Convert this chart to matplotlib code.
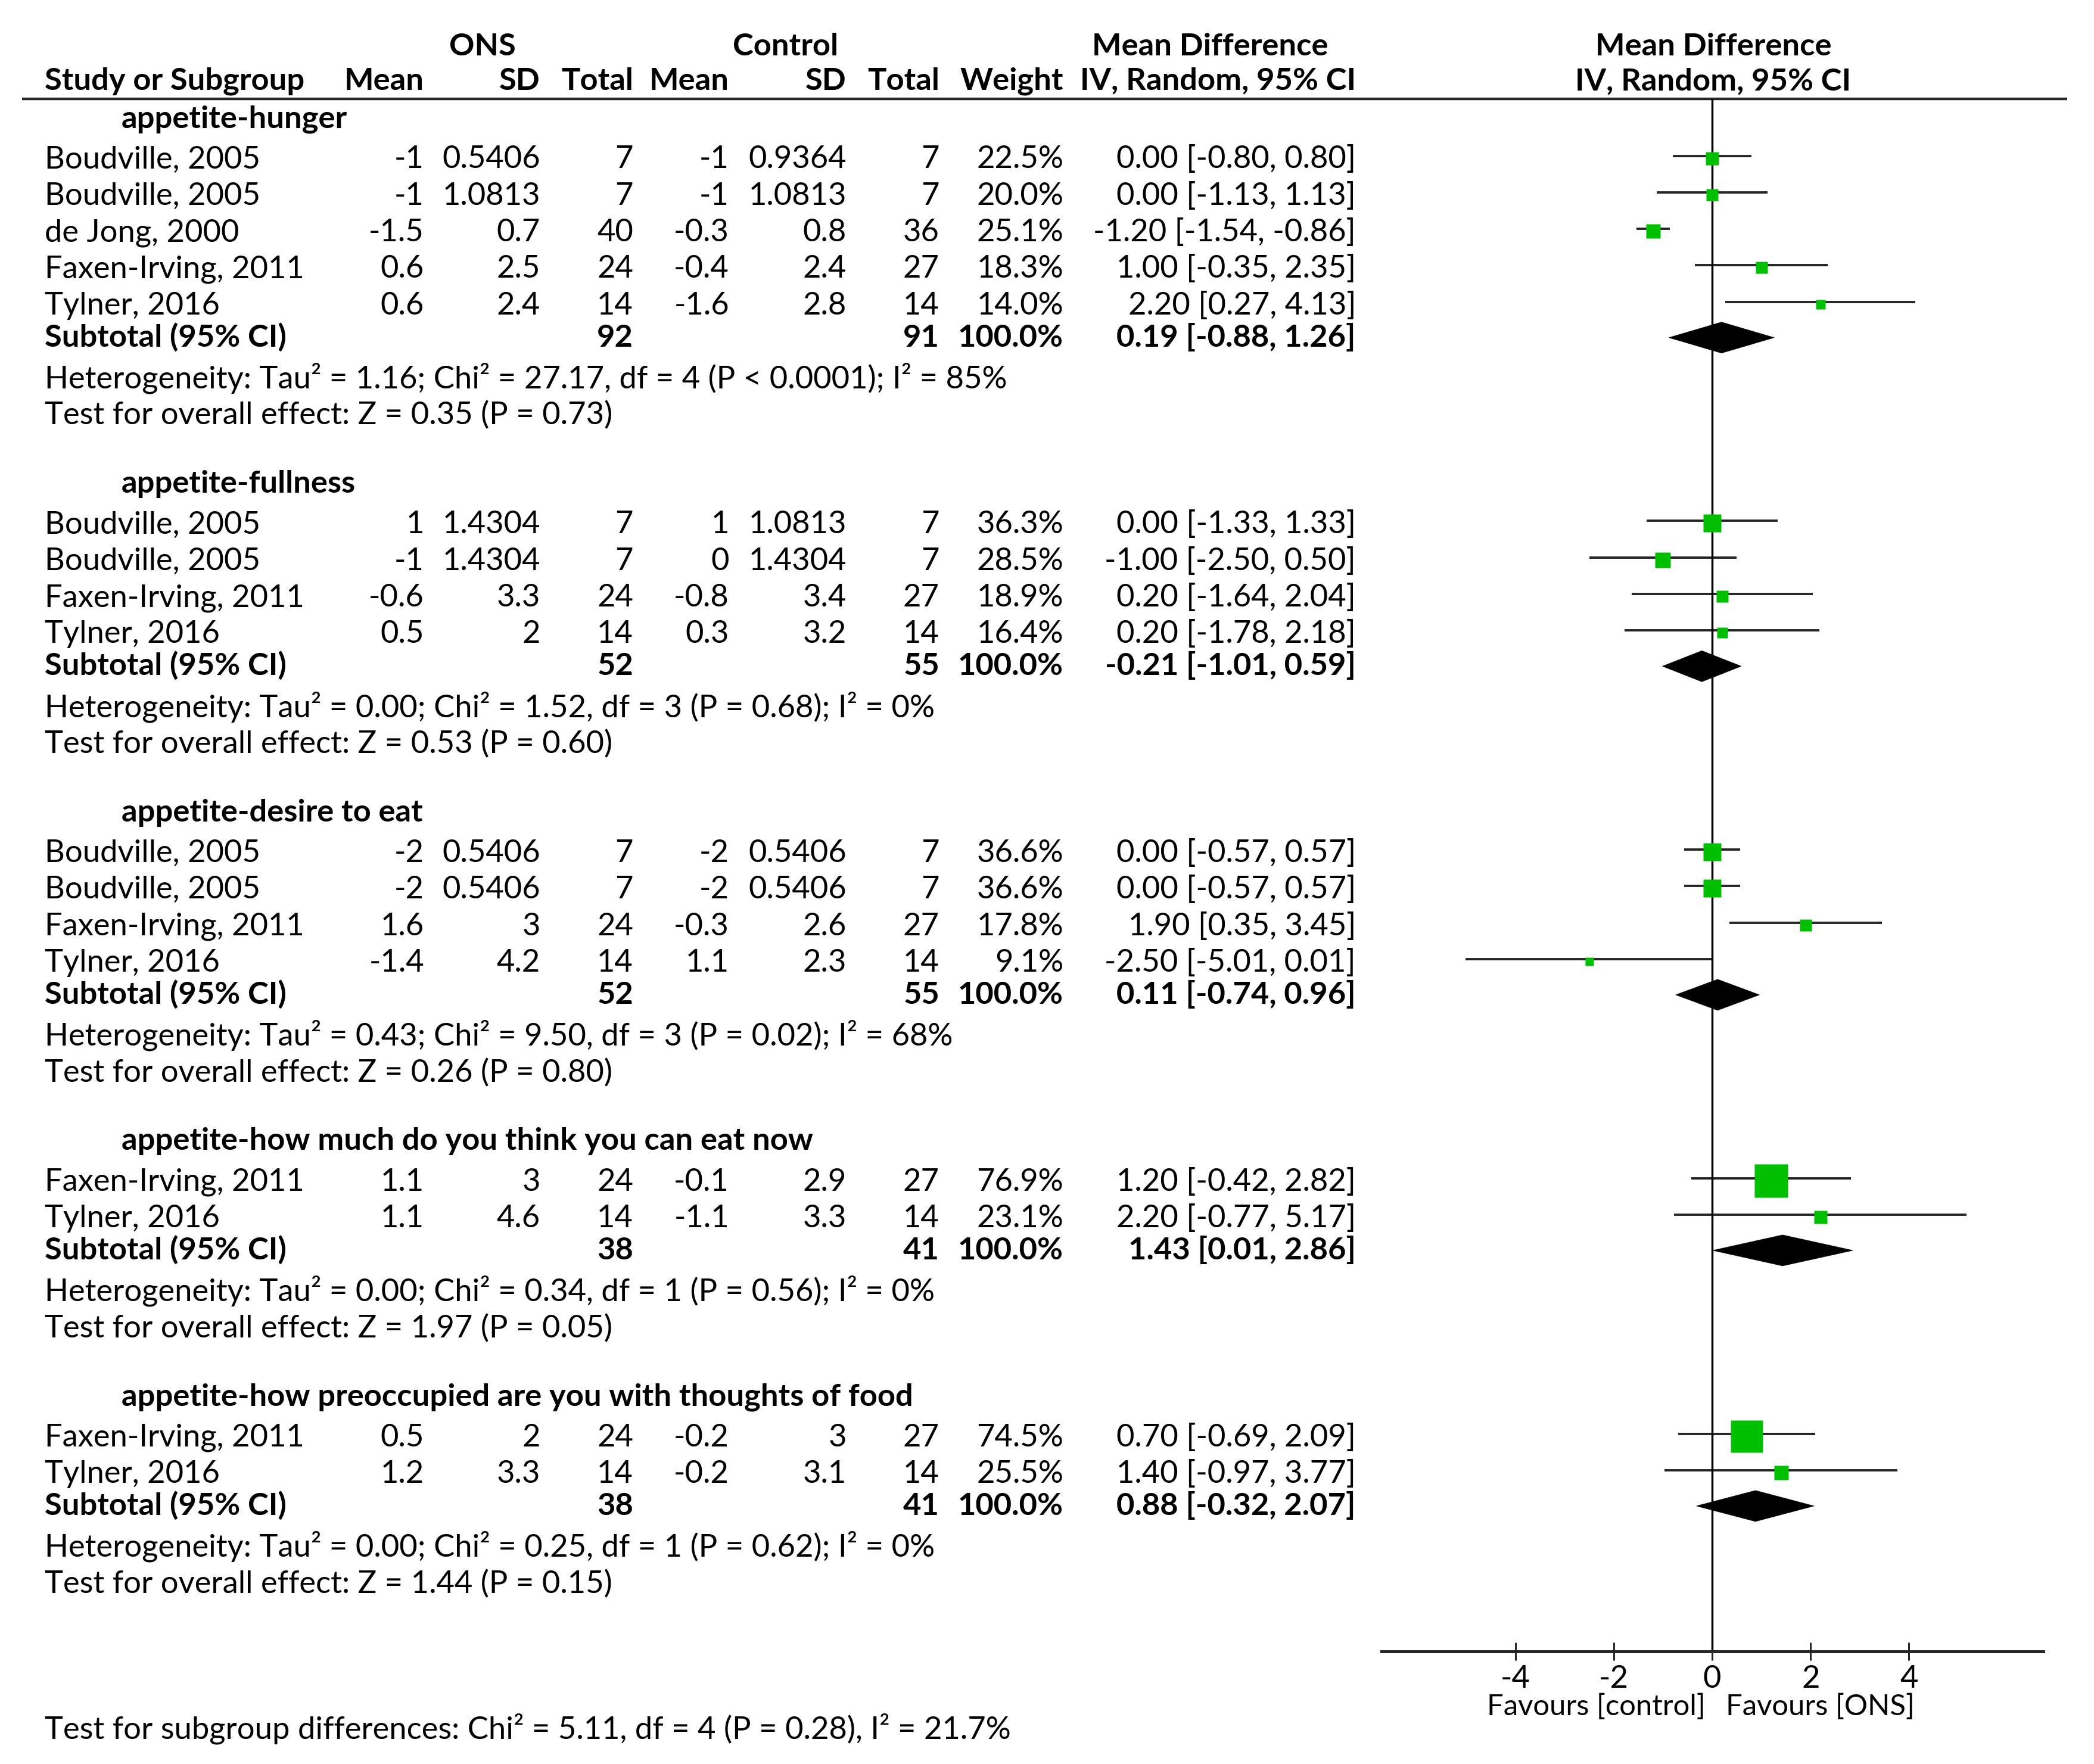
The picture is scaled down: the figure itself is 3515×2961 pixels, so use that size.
import matplotlib
matplotlib.use('Agg')
import matplotlib.pyplot as plt
from matplotlib.patches import Polygon

plt.rcParams['font.family'] = ['Lato', 'DejaVu Sans']
plt.rcParams['axes.unicode_minus'] = False

# ---------------- data ----------------
subgroups = ['appetite-hunger', 'appetite-fullness', 'appetite-desire to eat',
             'appetite-how much do you think you can eat now',
             'appetite-how preoccupied are you with thoughts of food']
study_group = [0, 0, 0, 0, 0, 1, 1, 1, 1, 2, 2, 2, 2, 3, 3, 4, 4]
study_names = ['Boudville, 2005', 'Boudville, 2005', 'de Jong, 2000', 'Faxen-Irving, 2011', 'Tylner, 2016',
               'Boudville, 2005', 'Boudville, 2005', 'Faxen-Irving, 2011', 'Tylner, 2016',
               'Boudville, 2005', 'Boudville, 2005', 'Faxen-Irving, 2011', 'Tylner, 2016',
               'Faxen-Irving, 2011', 'Tylner, 2016',
               'Faxen-Irving, 2011', 'Tylner, 2016']
ons_mean = [-1, -1, -1.5, 0.6, 0.6, 1, -1, -0.6, 0.5, -2, -2, 1.6, -1.4, 1.1, 1.1, 0.5, 1.2]
ons_sd = [0.5406, 1.0813, 0.7, 2.5, 2.4, 1.4304, 1.4304, 3.3, 2, 0.5406, 0.5406, 3, 4.2, 3, 4.6, 2, 3.3]
ons_n = [7, 7, 40, 24, 14, 7, 7, 24, 14, 7, 7, 24, 14, 24, 14, 24, 14]
ctl_mean = [-1, -1, -0.3, -0.4, -1.6, 1, 0, -0.8, 0.3, -2, -2, -0.3, 1.1, -0.1, -1.1, -0.2, -0.2]
ctl_sd = [0.9364, 1.0813, 0.8, 2.4, 2.8, 1.0813, 1.4304, 3.4, 3.2, 0.5406, 0.5406, 2.6, 2.3, 2.9, 3.3, 3, 3.1]
ctl_n = [7, 7, 36, 27, 14, 7, 7, 27, 14, 7, 7, 27, 14, 27, 14, 27, 14]
weight = [22.5, 20.0, 25.1, 18.3, 14.0, 36.3, 28.5, 18.9, 16.4, 36.6, 36.6, 17.8, 9.1, 76.9, 23.1, 74.5, 25.5]
md = [0.00, 0.00, -1.20, 1.00, 2.20, 0.00, -1.00, 0.20, 0.20, 0.00, 0.00, 1.90, -2.50, 1.20, 2.20, 0.70, 1.40]
ci_lo = [-0.80, -1.13, -1.54, -0.35, 0.27, -1.33, -2.50, -1.64, -1.78, -0.57, -0.57, 0.35, -5.01, -0.42, -0.77, -0.69, -0.97]
ci_hi = [0.80, 1.13, -0.86, 2.35, 4.13, 1.33, 0.50, 2.04, 2.18, 0.57, 0.57, 3.45, 0.01, 2.82, 5.17, 2.09, 3.77]

sub_ons_n = [92, 52, 52, 38, 38]
sub_ctl_n = [91, 55, 55, 41, 41]
sub_weight = [100.0, 100.0, 100.0, 100.0, 100.0]
sub_md = [0.19, -0.21, 0.11, 1.43, 0.88]
sub_lo = [-0.88, -1.01, -0.74, 0.01, -0.32]
sub_hi = [1.26, 0.59, 0.96, 2.86, 2.07]
het_tau2 = [1.16, 0.00, 0.43, 0.00, 0.00]
het_chi2 = [27.17, 1.52, 9.50, 0.34, 0.25]
het_df = [4, 3, 3, 1, 1]
het_p = ['< 0.0001', '= 0.68', '= 0.02', '= 0.56', '= 0.62']
het_i2 = [85, 0, 68, 0, 0]
z_val = [0.35, 0.53, 0.26, 1.97, 1.44]
z_p = [0.73, 0.60, 0.80, 0.05, 0.15]
diff_chi2, diff_df, diff_p, diff_i2 = 5.11, 4, 0.28, 21.7
xticks = [-4, -2, 0, 2, 4]
favours = ['Favours [control]', 'Favours [ONS]']

# ---------------- layout ----------------
W, H = 3515, 2961
GREEN = '#00BF00'
LINE = '#262626'
fig = plt.figure(figsize=(W / 100, H / 100), dpi=100)
axt = fig.add_axes([0, 0, 1, 1])
axt.set_xlim(0, W)
axt.set_ylim(H, 0)
axt.axis('off')

diff_text = ('Test for subgroup differences: Chi\u00b2 = %.2f, df = %d (P = %.2f), I\u00b2 = %.1f%%'
             % (diff_chi2, diff_df, diff_p, diff_i2))
renderer = fig.canvas.get_renderer()


def fit_size(s, target):
    probe = axt.text(0, 0, s, fontsize=20)
    pw = probe.get_window_extent(renderer=renderer).width
    probe.remove()
    return 20 * target / pw


FS = fit_size(diff_text, 1622)
FS_FAV = fit_size(favours[0] + '  ' + favours[1], 709)

X_NAME, X_SUB = 75, 204
col_right = [712, 907, 1063, 1224, 1421, 1577, 1785, 2276]


def txt(x, y, s, ha='left', bold=False, ax=axt):
    ax.text(x, y, s, ha=ha, va='baseline', fontsize=FS,
            fontweight='bold' if bold else 'normal', color='black')


# header
txt(810, 93, 'ONS', 'center', True)
txt(1319, 93, 'Control', 'center', True)
txt(2031, 93, 'Mean Difference', 'center', True)
txt(2876, 93, 'Mean Difference', 'center', True)
txt(X_NAME, 151, 'Study or Subgroup', 'left', True)
for x, s in zip(col_right, ['Mean', 'SD', 'Total', 'Mean', 'SD', 'Total', 'Weight', 'IV, Random, 95% CI']):
    txt(x, 151, s, 'right', True)
txt(2876, 152, 'IV, Random, 95% CI', 'center', True)
axt.plot([37, 3470], [166, 166], color=LINE, lw=3.2, solid_capstyle='butt')

# compute row baselines
header_y, study_y, sub_y, het_y, test_y = [], [], [], [], []
y = 214
for g in range(len(subgroups)):
    header_y.append(y)
    idx = [i for i, sg in enumerate(study_group) if sg == g]
    y += 68.5
    for k, i in enumerate(idx):
        if k > 0:
            y += 61.3
        study_y.append(y)
    y += 54
    sub_y.append(y)
    y += 70
    het_y.append(y)
    y += 61
    test_y.append(y)
    y += 114.2

# table text
for g, name in enumerate(subgroups):
    txt(X_SUB, header_y[g], name, 'left', True)
    txt(X_NAME, sub_y[g], 'Subtotal (95% CI)', 'left', True)
    txt(col_right[2], sub_y[g], '%d' % sub_ons_n[g], 'right', True)
    txt(col_right[5], sub_y[g], '%d' % sub_ctl_n[g], 'right', True)
    txt(col_right[6], sub_y[g], '%.1f%%' % sub_weight[g], 'right', True)
    txt(col_right[7], sub_y[g], '%.2f [%.2f, %.2f]' % (sub_md[g], sub_lo[g], sub_hi[g]), 'right', True)
    txt(X_NAME, het_y[g], 'Heterogeneity: Tau\u00b2 = %.2f; Chi\u00b2 = %.2f, df = %d (P %s); I\u00b2 = %d%%'
        % (het_tau2[g], het_chi2[g], het_df[g], het_p[g], het_i2[g]))
    txt(X_NAME, test_y[g], 'Test for overall effect: Z = %.2f (P = %.2f)' % (z_val[g], z_p[g]))

for i, name in enumerate(study_names):
    yy = study_y[i]
    txt(X_NAME, yy, name)
    vals = ['%g' % ons_mean[i], '%g' % ons_sd[i], '%d' % ons_n[i],
            '%g' % ctl_mean[i], '%g' % ctl_sd[i], '%d' % ctl_n[i],
            '%.1f%%' % weight[i], '%.2f [%.2f, %.2f]' % (md[i], ci_lo[i], ci_hi[i])]
    for x, s in zip(col_right, vals):
        txt(x, yy, s, 'right')

txt(X_NAME, 2919, diff_text)

# ---------------- forest plot ----------------
AX_L, AX_R = 2319, 3430
axf = fig.add_axes([AX_L / W, 0, (AX_R - AX_L) / W, 1])
axf.set_facecolor('none')
axf.set_xlim(-6.72, 6.73)
axf.set_ylim(H, 0)
AXIS_Y = 2772
for s in ['top', 'left', 'right']:
    axf.spines[s].set_visible(False)
axf.spines['bottom'].set_position(('data', AXIS_Y))
axf.spines['bottom'].set_linewidth(3.6)
axf.spines['bottom'].set_color(LINE)
axf.set_yticks([])
axf.set_xticks(xticks)
axf.set_xticklabels(['%d' % t for t in xticks])
axf.tick_params(axis='x', direction='inout', length=21.6, width=2.2, color=LINE,
                pad=6, labelsize=FS)

axf.vlines(0, 166, AXIS_Y, color='black', lw=2.5, zorder=2)

for i in range(len(md)):
    yy = study_y[i]
    axf.hlines(yy - 21, ci_lo[i], ci_hi[i], color=LINE, lw=2.8, zorder=1)
    side_pt = (8.5 + 0.605 * weight[i]) * 0.72
    axf.plot([md[i]], [yy - 17], marker='s', ms=side_pt, color=GREEN, mec='none',
             linestyle='none', zorder=3)

for g in range(len(subgroups)):
    yc = sub_y[g] - 15
    axf.add_patch(Polygon([(sub_lo[g], yc), (sub_md[g], yc - 26), (sub_hi[g], yc), (sub_md[g], yc + 26)],
                          closed=True, facecolor='black', edgecolor='black', lw=0.5, zorder=3))

axf.text(-0.13, 2879, favours[0], ha='right', va='baseline', fontsize=FS_FAV)
axf.text(0.28, 2879, favours[1], ha='left', va='baseline', fontsize=FS_FAV)

fig.savefig('out.png', dpi=100)
